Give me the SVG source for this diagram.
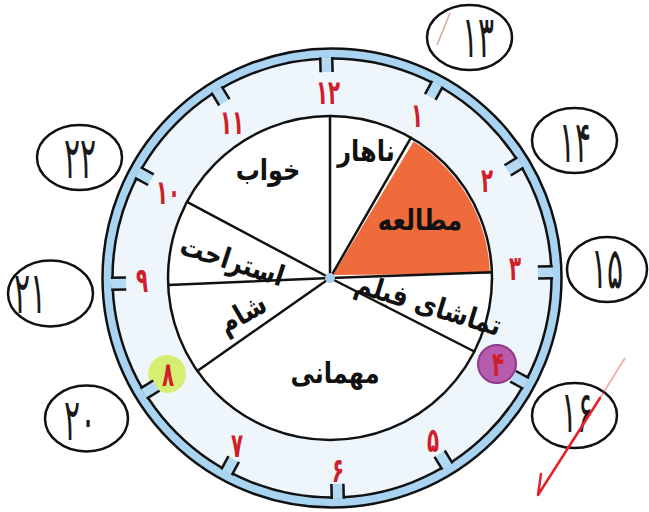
<svg xmlns="http://www.w3.org/2000/svg" width="649" height="512" viewBox="0 0 649 512">
<style>
.lbl{font-family:"DejaVu Sans",sans-serif;font-weight:bold;font-size:24px;fill:#111;text-anchor:middle}
.num{font-family:"DejaVu Sans",sans-serif;font-weight:bold;font-size:22px;fill:#cf1f2a;text-anchor:middle}
.hw{font-family:"DejaVu Sans",sans-serif;font-size:40px;fill:#1a1a1a;text-anchor:middle}
.ell{fill:none;stroke:#111;stroke-width:2.5}
.div{stroke:#111;stroke-width:2.5;fill:none;stroke-linecap:round}
.tk{stroke:#111;stroke-width:2.5}
</style>
<defs>
<g id="tick">
<rect x="-6" y="-221" width="12" height="15" fill="#b4daf3"/>
<line class="tk" x1="-6" y1="-221" x2="-6" y2="-206"/>
<line class="tk" x1="6" y1="-221" x2="6" y2="-206"/>
</g>
</defs>
<rect width="649" height="512" fill="#fff"/>
<g id="clock-ring">
<circle cx="332" cy="278" r="220" fill="#eef6fb"/>
<circle cx="332" cy="278" r="224.5" fill="none" stroke="#a9d4f1" stroke-width="10"/>
<circle cx="332" cy="278" r="229.5" fill="none" stroke="#111" stroke-width="2.5"/>
<circle cx="332" cy="278" r="219.5" fill="none" stroke="#111" stroke-width="2.5"/>
</g>
<g id="highlights">
<circle cx="167" cy="374" r="19" fill="#d6ef73"/>
<circle cx="497" cy="364" r="19" fill="#b65cae" stroke="#8c3a8a" stroke-width="2"/>
</g>
<g id="ticks" transform="translate(332 278)">
<use href="#tick" transform="rotate(-1.5)"/>
<use href="#tick" transform="rotate(28.5)"/>
<use href="#tick" transform="rotate(58.5)"/>
<use href="#tick" transform="rotate(88.5)"/>
<use href="#tick" transform="rotate(118.5)"/>
<use href="#tick" transform="rotate(148.5)"/>
<use href="#tick" transform="rotate(178.5)"/>
<use href="#tick" transform="rotate(208.5)"/>
<use href="#tick" transform="rotate(238.5)"/>
<use href="#tick" transform="rotate(268.5)"/>
<use href="#tick" transform="rotate(298.5)"/>
<use href="#tick" transform="rotate(328.5)"/>
</g>
<g id="hour-numbers">
<text class="num" transform="translate(328 92) scale(0.9 1.55)" y="8">۱۲</text>
<text class="num" transform="translate(417 115) scale(0.9 1.55)" y="8">۱</text>
<text class="num" transform="translate(487 180) scale(0.9 1.55)" y="8">۲</text>
<text class="num" transform="translate(515 268) scale(0.9 1.55)" y="8">۳</text>
<text class="num" transform="translate(498 364) scale(0.9 1.55)" y="8">۴</text>
<text class="num" transform="translate(433 440) scale(0.9 1.55)" y="8">۵</text>
<text class="num" transform="translate(338 470) scale(0.9 1.55)" y="8">۶</text>
<text class="num" transform="translate(237 445) scale(0.9 1.55)" y="8">۷</text>
<text class="num" transform="translate(168 374) scale(0.9 1.55)" y="8">۸</text>
<text class="num" transform="translate(142 280) scale(0.9 1.55)" y="8">۹</text>
<text class="num" transform="translate(168 192) scale(0.9 1.55)" y="8">۱۰</text>
<text class="num" transform="translate(232 122) scale(0.9 1.55)" y="8">۱۱</text>
</g>
<g id="pie">
<circle cx="330" cy="278" r="162" fill="#fff" stroke="#111" stroke-width="2.5"/>
<path d="M333 275 L413.6 141.6 A160 160 0 0 1 489.9 273.8 Z" fill="#ef6b3c"/>
</g>
<g id="connectors">
<line class="div" x1="330" y1="278" x2="330" y2="116"/>
<line class="div" x1="330" y1="278" x2="411" y2="137.7"/>
<line class="div" x1="330" y1="278" x2="491.9" y2="272.3"/>
<line class="div" x1="330" y1="278" x2="474.3" y2="351.5"/>
<line class="div" x1="330" y1="278" x2="197.3" y2="370.9"/>
<line class="div" x1="330" y1="278" x2="168.2" y2="285.1"/>
<line class="div" x1="330" y1="278" x2="187" y2="201.9"/>
</g>
<circle cx="330" cy="278" r="5" fill="#a8cde6"/>
<g id="labels">
<text class="lbl" transform="translate(268 172) scale(1 1.2)" y="7">خواب</text>
<text class="lbl" transform="translate(366 153) scale(1 1.2)" y="7">ناهار</text>
<text class="lbl" transform="translate(420 222) scale(1 1.2)" y="7">مطالعه</text>
<text class="lbl" transform="translate(335 375) scale(1 1.2)" y="7">مهمانی</text>
<text class="lbl" transform="translate(232 262) rotate(18) scale(1 1.2)" y="7">استراحت</text>
<text class="lbl" transform="translate(243 315) rotate(-30) scale(1 1.2)" y="7">شام</text>
<text class="lbl" transform="translate(428 306) rotate(17) scale(1 1.2)" y="7">تماشای فیلم</text>
</g>
<g id="outer-hours">
<ellipse class="ell" cx="469.5" cy="37.5" rx="42.5" ry="32.5"/>
<line x1="450" y1="13" x2="437" y2="45" stroke="#c86a5a" stroke-width="1.5" opacity="0.6"/>
<text class="hw" transform="translate(478 37) scale(0.75 1.45)" y="14">۱۳</text>
<ellipse class="ell" cx="574.5" cy="140.5" rx="42.5" ry="32.5"/>
<text class="hw" transform="translate(575 142) scale(0.75 1.45)" y="14">۱۴</text>
<ellipse class="ell" cx="607" cy="269.5" rx="40" ry="32.5"/>
<text class="hw" transform="translate(607 268) scale(0.75 1.45)" y="14">۱۵</text>
<ellipse class="ell" cx="574.5" cy="415.5" rx="42.5" ry="32.5"/>
<text class="hw" transform="translate(577 412) scale(0.75 1.45)" y="14">۱۶</text>
<ellipse class="ell" cx="79.5" cy="157.5" rx="42.5" ry="32.5"/>
<text class="hw" transform="translate(80 158) scale(0.75 1.45)" y="14">۲۲</text>
<ellipse class="ell" cx="50.5" cy="293.5" rx="42.5" ry="33"/>
<text class="hw" transform="translate(30 293) scale(0.75 1.45)" y="14">۲۱</text>
<ellipse class="ell" cx="86.5" cy="418.5" rx="41.5" ry="33"/>
<text class="hw" transform="translate(80 420) scale(0.75 1.45)" y="14">۲۰</text>
</g>
<g id="check">
<line x1="625" y1="358" x2="600" y2="398" stroke="#e5202a" stroke-width="2" opacity="0.35"/>
<path d="M600 398 L538 495 L541 474" fill="none" stroke="#e5202a" stroke-width="2.5" stroke-linecap="round" stroke-linejoin="round"/>
</g>
</svg>
